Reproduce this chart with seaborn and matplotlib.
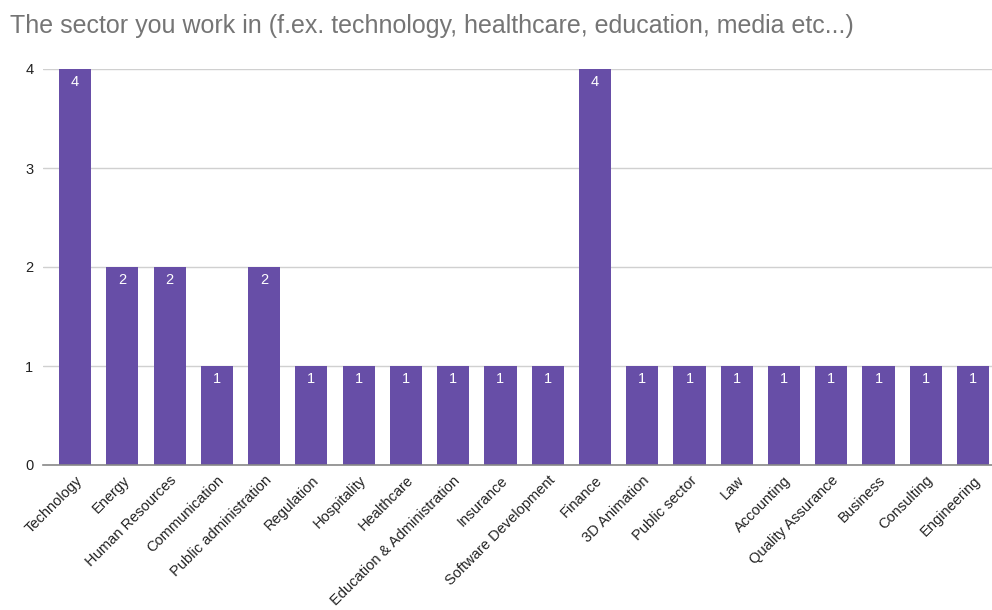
import matplotlib
matplotlib.use("Agg")
import matplotlib.pyplot as plt
import seaborn as sns
import pandas as pd

sectors = [
    "Technology", "Energy", "Human Resources", "Communication",
    "Public administration", "Regulation", "Hospitality", "Healthcare",
    "Education & Administration", "Insurance", "Software Development",
    "Finance", "3D Animation", "Public sector", "Law", "Accounting",
    "Quality Assurance", "Business", "Consulting", "Engineering",
]
counts = [4, 2, 2, 1, 2, 1, 1, 1, 1, 1, 1, 4, 1, 1, 1, 1, 1, 1, 1, 1]
y_ticks = [0, 1, 2, 3, 4]
title = "The sector you work in (f.ex. technology, healthcare, education, media etc...)"

sns.set_theme(style="white")
plt.rcParams["font.family"] = ["Liberation Sans", "DejaVu Sans"]

df = pd.DataFrame({"sector": sectors, "count": counts})

fig = plt.figure(figsize=(9.92, 6.10), dpi=100)
ax = fig.add_axes([43 / 992, (610 - 465) / 610, (992 - 43) / 992, (465 - 69) / 610])

bar_color = "#674ea7"
sns.barplot(data=df, x="sector", y="count", color=bar_color, saturation=1,
            width=0.68, ax=ax, edgecolor="none")

ax.set_xlim(-0.678, 19.40)
ax.set_ylim(0, 4)
ax.set_yticks(y_ticks)
ax.set_yticklabels([str(v) for v in y_ticks], fontsize=10.5, color="#222222")
ax.yaxis.grid(True, color="#d0d0d0", linewidth=1)
ax.set_axisbelow(True)
ax.tick_params(axis="y", length=0, pad=7)
ax.tick_params(axis="x", length=0, pad=6)

ax.set_xticks(range(len(sectors)))
ax.set_xticklabels(sectors, rotation=45, ha="right", rotation_mode="anchor",
                   fontsize=10.5, color="#222222")

for side in ["left", "right", "top"]:
    ax.spines[side].set_visible(False)
ax.spines["bottom"].set_color("#888888")
ax.spines["bottom"].set_linewidth(1.2)

ax.set_xlabel("")
ax.set_ylabel("")

for i, v in enumerate(counts):
    ax.annotate(str(v), xy=(i, v), xytext=(0, -9.5), textcoords="offset points",
                ha="center", va="center", color="white", fontsize=10.5)

fig.text(10 / 992, 1 - 26 / 610, title, fontsize=18, color="#757575",
         ha="left", va="center")

fig.savefig("out.png", dpi=100)
